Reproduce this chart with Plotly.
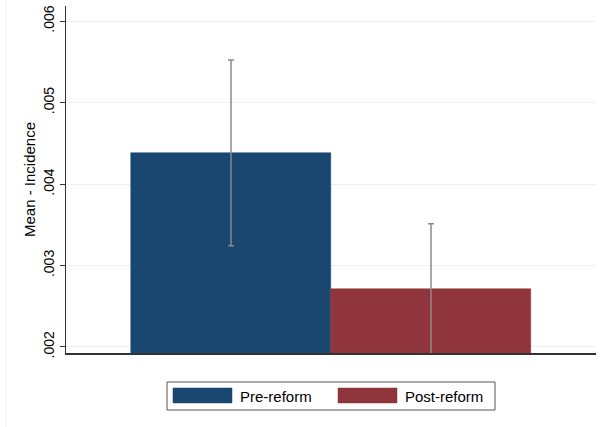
import plotly.graph_objects as go

# Group means with 95% confidence-interval half-widths
groups = ["Pre-reform", "Post-reform"]
means = [0.004384, 0.002714]
ci_half = [0.00114, 0.00080]
colors = ["#1a476f", "#90353b"]

ytick_vals = [0.002, 0.003, 0.004, 0.005, 0.006]
ytick_text = [".002", ".003", ".004", ".005", ".006"]
y_range = [0.001926, 0.006187]

W, H = 601, 427
M = dict(l=66, r=5, t=6, b=74)
FONT = "Liberation Sans, Arial, sans-serif"
AXIS = "#333333"
GRID = "#eaf2f3"

plot_w = W - M["l"] - M["r"]
plot_h = H - M["t"] - M["b"]


def px_x(px):
    return (px - M["l"]) / plot_w


def px_y(py):
    return (H - M["b"] - py) / plot_h


fig = go.Figure()
for i, (g, m, e, c) in enumerate(zip(groups, means, ci_half, colors)):
    fig.add_trace(go.Bar(
        x=[i], y=[m], width=1, name=g, showlegend=False,
        marker=dict(color=c, line=dict(color=c, width=0.5)),
        error_y=dict(type="data", array=[e], color="#8a8a8a",
                     thickness=1.5, width=3),
    ))

# Legend drawn below the plot: framed box with wide colour keys
shapes = [
    dict(type="rect", xref="paper", yref="paper",
         x0=px_x(167), x1=px_x(495), y0=px_y(410), y1=px_y(382),
         line=dict(color="#555555", width=1), fillcolor="white"),
    dict(type="line", xref="paper", yref="paper",
         x0=px_x(6), x1=px_x(6), y0=px_y(427), y1=px_y(0),
         line=dict(color=GRID, width=1)),
]
annotations = []
key_x = [173, 338]
for g, c, kx in zip(groups, colors, key_x):
    shapes.append(dict(type="rect", xref="paper", yref="paper",
                       x0=px_x(kx), x1=px_x(kx + 59),
                       y0=px_y(403), y1=px_y(388),
                       line=dict(color=c, width=0.5), fillcolor=c))
    annotations.append(dict(xref="paper", yref="paper",
                            x=px_x(kx + 65), y=px_y(396),
                            xanchor="left", yanchor="middle",
                            text=g, showarrow=False,
                            font=dict(family=FONT, size=15, color="black")))

fig.update_layout(
    width=W, height=H, margin=M,
    paper_bgcolor="white", plot_bgcolor="white",
    font=dict(family=FONT, size=14, color="black"),
    bargap=0, showlegend=False,
    shapes=shapes, annotations=annotations,
    xaxis=dict(range=[-0.825, 1.825], showline=True, linecolor=AXIS,
               linewidth=1.5, showgrid=False, zeroline=False,
               showticklabels=False, ticks=""),
    yaxis=dict(range=y_range, tickvals=ytick_vals, ticktext=ytick_text,
               tickangle=-90, ticks="outside", ticklen=5, tickcolor=AXIS,
               tickwidth=1, showline=True, linecolor=AXIS, linewidth=1,
               gridcolor=GRID, gridwidth=1, zeroline=False,
               tickfont=dict(size=14),
               title=dict(text="Mean - Incidence", standoff=2,
                          font=dict(size=15))),
)

fig.write_html("out.html")
